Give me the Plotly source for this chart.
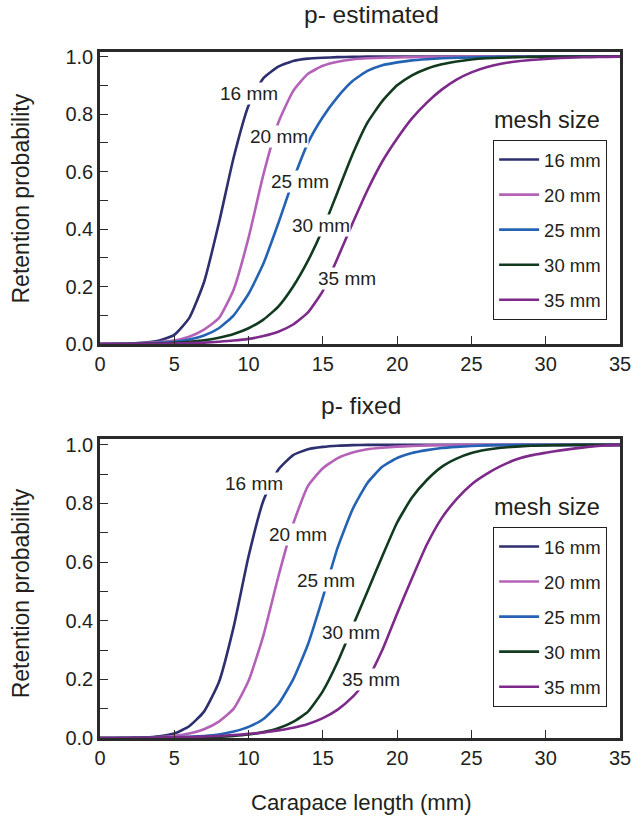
import plotly.graph_objects as go

# Carapace length (mm)
length = list(range(0, 36))

mesh_labels = ["16 mm", "20 mm", "25 mm", "30 mm", "35 mm"]
mesh_colors = ["#2d2f6e", "#b462b8", "#2463b4", "#123a1f", "#7d2a8a"]

# Retention probability, p estimated
est_16 = [0.000, 0.001, 0.002, 0.005, 0.012, 0.032, 0.090, 0.215, 0.420, 0.650, 0.830, 0.925,
          0.965, 0.985, 0.993, 0.996, 0.998, 0.999, 1.000, 1.000, 1.000, 1.000, 1.000, 1.000,
          1.000, 1.000, 1.000, 1.000, 1.000, 1.000, 1.000, 1.000, 1.000, 1.000, 1.000, 1.000]
est_20 = [0.000, 0.001, 0.002, 0.004, 0.007, 0.012, 0.025, 0.050, 0.090, 0.190, 0.370, 0.590,
          0.770, 0.880, 0.940, 0.968, 0.982, 0.990, 0.994, 0.996, 0.997, 0.998, 0.999, 0.999,
          1.000, 1.000, 1.000, 1.000, 1.000, 1.000, 1.000, 1.000, 1.000, 1.000, 1.000, 1.000]
est_25 = [0.000, 0.000, 0.001, 0.002, 0.004, 0.008, 0.016, 0.030, 0.055, 0.100, 0.175, 0.280,
          0.420, 0.570, 0.700, 0.790, 0.860, 0.915, 0.950, 0.970, 0.980, 0.987, 0.991, 0.994,
          0.996, 0.997, 0.998, 0.999, 0.999, 1.000, 1.000, 1.000, 1.000, 1.000, 1.000, 1.000]
est_30 = [0.000, 0.000, 0.000, 0.001, 0.002, 0.004, 0.008, 0.013, 0.022, 0.035, 0.055, 0.085,
          0.130, 0.200, 0.290, 0.400, 0.530, 0.660, 0.770, 0.845, 0.900, 0.935, 0.958, 0.973,
          0.983, 0.990, 0.994, 0.996, 0.998, 0.999, 1.000, 1.000, 1.000, 1.000, 1.000, 1.000]
est_35 = [0.000, 0.000, 0.000, 0.001, 0.001, 0.002, 0.003, 0.005, 0.008, 0.012, 0.018, 0.028,
          0.043, 0.068, 0.110, 0.185, 0.300, 0.420, 0.535, 0.635, 0.715, 0.785, 0.840, 0.885,
          0.920, 0.945, 0.963, 0.975, 0.983, 0.988, 0.992, 0.995, 0.997, 0.998, 0.999, 1.000]

# Retention probability, p fixed
fix_16 = [0.000, 0.000, 0.001, 0.002, 0.006, 0.015, 0.040, 0.090, 0.190, 0.380, 0.620, 0.810,
          0.915, 0.965, 0.985, 0.993, 0.997, 0.999, 1.000, 1.000, 1.000, 1.000, 1.000, 1.000,
          1.000, 1.000, 1.000, 1.000, 1.000, 1.000, 1.000, 1.000, 1.000, 1.000, 1.000, 1.000]
fix_20 = [0.000, 0.000, 0.000, 0.001, 0.003, 0.007, 0.015, 0.030, 0.056, 0.100, 0.195, 0.350,
          0.550, 0.730, 0.860, 0.920, 0.955, 0.974, 0.985, 0.990, 0.994, 0.996, 0.998, 0.999,
          1.000, 1.000, 1.000, 1.000, 1.000, 1.000, 1.000, 1.000, 1.000, 1.000, 1.000, 1.000]
fix_25 = [0.000, 0.000, 0.000, 0.000, 0.001, 0.002, 0.004, 0.007, 0.012, 0.022, 0.038, 0.065,
          0.115, 0.200, 0.320, 0.480, 0.650, 0.780, 0.870, 0.925, 0.955, 0.972, 0.982, 0.989,
          0.993, 0.996, 0.998, 0.999, 1.000, 1.000, 1.000, 1.000, 1.000, 1.000, 1.000, 1.000]
fix_30 = [0.000, 0.000, 0.000, 0.000, 0.000, 0.001, 0.001, 0.002, 0.004, 0.007, 0.012, 0.020,
          0.033, 0.055, 0.090, 0.160, 0.260, 0.380, 0.500, 0.620, 0.735, 0.820, 0.880, 0.925,
          0.953, 0.972, 0.983, 0.990, 0.994, 0.997, 0.998, 0.999, 1.000, 1.000, 1.000, 1.000]
fix_35 = [0.000, 0.000, 0.000, 0.000, 0.001, 0.002, 0.003, 0.005, 0.007, 0.010, 0.014, 0.019,
          0.026, 0.035, 0.048, 0.068, 0.097, 0.140, 0.200, 0.300, 0.425, 0.545, 0.660, 0.750,
          0.815, 0.865, 0.900, 0.928, 0.950, 0.964, 0.973, 0.981, 0.988, 0.994, 0.998, 1.000]

estimated = [est_16, est_20, est_25, est_30, est_35]
fixed = [fix_16, fix_20, fix_25, fix_30, fix_35]

# in-plot curve labels (x, y in data units) for each panel
est_label_pos = [(10.03, 0.873), (12.02, 0.722), (13.46, 0.565), (14.9, 0.414), (16.61, 0.229)]
fix_label_pos = [(10.36, 0.869), (13.35, 0.693), (15.23, 0.537), (16.89, 0.359), (18.21, 0.200)]

FONT = "Liberation Sans, Arial, Helvetica, sans-serif"
INK = "#231f20"

fig = go.Figure()

for i, (vals, name, col) in enumerate(zip(estimated, mesh_labels, mesh_colors)):
    fig.add_trace(go.Scatter(
        x=length, y=vals, mode="lines", name=name,
        line=dict(color=col, width=2.6, shape="spline", smoothing=0.5),
        xaxis="x", yaxis="y", legend="legend", legendgroup=f"est{i}",
    ))
for i, (vals, name, col) in enumerate(zip(fixed, mesh_labels, mesh_colors)):
    fig.add_trace(go.Scatter(
        x=length, y=vals, mode="lines", name=name,
        line=dict(color=col, width=2.6, shape="spline", smoothing=0.5),
        xaxis="x2", yaxis="y2", legend="legend2", legendgroup=f"fix{i}",
    ))

axis_common = dict(
    showline=True, linewidth=2.5, linecolor="#2a2a2a", mirror=True,
    ticks="inside", ticklen=8, tickwidth=1.2, tickcolor="#2a2a2a",
    showgrid=False, zeroline=False,
    tickfont=dict(family=FONT, size=20, color=INK),
)

xaxis_cfg = dict(axis_common, range=[0, 35], tickmode="linear", tick0=0, dtick=5)
yaxis_cfg = dict(axis_common, tickmode="linear", tick0=0, dtick=0.2, tickformat=".1f",
                 minor=dict(ticks="inside", ticklen=8, tickwidth=1.2, tickcolor="#2a2a2a",
                            dtick=0.1, tick0=0, showgrid=False))

legend_common = dict(
    bgcolor="white", bordercolor="#231f20", borderwidth=1,
    font=dict(family=FONT, size=18.5, color=INK),
    xanchor="left", yanchor="top", itemwidth=40, tracegroupgap=8,
    traceorder="grouped",
)

fig.update_layout(
    width=643, height=818,
    margin=dict(l=100, r=14, t=52, b=80),
    paper_bgcolor="white", plot_bgcolor="white",
    showlegend=True,
    xaxis=dict(xaxis_cfg, domain=[0, 1], anchor="y"),
    yaxis=dict(yaxis_cfg, domain=[0.5743, 1.0], range=[0, 1.016], anchor="x"),
    xaxis2=dict(xaxis_cfg, domain=[0, 1], anchor="y2"),
    yaxis2=dict(yaxis_cfg, domain=[0.0, 0.4359], range=[0, 1.02], anchor="x2"),
    legend=dict(legend_common, x=0.756, y=0.8717),
    legend2=dict(legend_common, x=0.756, y=0.3076),
)

annotations = []
for (lx, ly), name in zip(est_label_pos, mesh_labels):
    annotations.append(dict(x=lx, y=ly, xref="x", yref="y", text=name, showarrow=False,
                            bgcolor="white", borderpad=0,
                            font=dict(family=FONT, size=19, color=INK)))
for (lx, ly), name in zip(fix_label_pos, mesh_labels):
    annotations.append(dict(x=lx, y=ly, xref="x2", yref="y2", text=name, showarrow=False,
                            bgcolor="white", borderpad=0,
                            font=dict(family=FONT, size=19, color=INK)))

text_items = [
    ("p- estimated", 0.522, 1.054, 0, 24.5),
    ("p- fixed", 0.502, 0.4854, 0, 24.5),
    ("mesh size", 0.8601, 0.9009, 0, 23.5),
    ("mesh size", 0.8601, 0.3367, 0, 23.5),
    ("Retention probability", -0.1512, 0.787, -90, 23),
    ("Retention probability", -0.1512, 0.2114, -90, 23),
    ("Carapace length (mm)", 0.503, -0.0933, 0, 22.2),
]
for txt, ax, ay, ang, sz in text_items:
    annotations.append(dict(x=ax, y=ay, xref="paper", yref="paper", text=txt,
                            showarrow=False, textangle=ang, xanchor="center", yanchor="middle",
                            font=dict(family=FONT, size=sz, color=INK)))

fig.update_layout(annotations=annotations)

fig.write_html("out.html")
